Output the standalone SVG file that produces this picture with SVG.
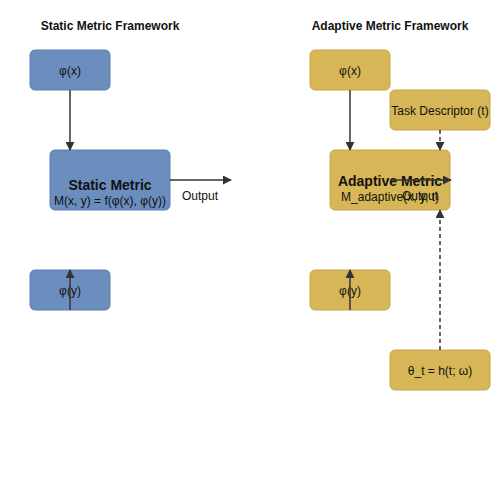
<svg xmlns="http://www.w3.org/2000/svg" width="500" height="500" viewBox="0 0 500 500">
<defs>
<style>
.blue{fill:#6c8ebf;stroke:#5b7db0;stroke-width:1}
.gold{fill:#d6b656;stroke:#c7a74a;stroke-width:1}
.t{font-family:"Liberation Sans",Arial,sans-serif;font-size:12px;fill:#111;text-anchor:middle}
.b{font-weight:bold;font-size:14px}
.title{font-family:"Liberation Sans",Arial,sans-serif;font-size:12px;font-weight:bold;fill:#111;text-anchor:middle}
.e{stroke:#333;stroke-width:1.5;fill:none}
.d{stroke-dasharray:4,3}
</style>
<marker id="ah" viewBox="0 0 10 10" refX="9" refY="5" markerWidth="6" markerHeight="6" orient="auto" markerUnits="strokeWidth">
<path d="M0,0 L10,5 L0,10 Z" fill="#333"/>
</marker>
</defs>
<rect width="500" height="500" fill="#fff"/>
<text class="title" x="110" y="30">Static Metric Framework</text>
<text class="title" x="390" y="30">Adaptive Metric Framework</text>
<g id="s_phix"><rect class="blue" x="30" y="50" width="80" height="40" rx="5"/><text class="t" x="70" y="75">φ(x)</text></g>
<g id="s_metric"><rect class="blue" x="50" y="150" width="120" height="60" rx="5"/><text class="t b" x="110" y="190">Static Metric</text><text class="t" x="110" y="205">M(x, y) = f(φ(x), φ(y))</text></g>
<g id="s_phiy"><rect class="blue" x="30" y="270" width="80" height="40" rx="5"/><text class="t" x="70" y="295">φ(y)</text></g>
<g id="a_phix"><rect class="gold" x="310" y="50" width="80" height="40" rx="5"/><text class="t" x="350" y="75">φ(x)</text></g>
<g id="a_task"><rect class="gold" x="390" y="90" width="100" height="40" rx="5"/><text class="t" x="440" y="115">Task Descriptor (t)</text></g>
<g id="a_metric"><rect class="gold" x="330" y="150" width="120" height="60" rx="5"/><text class="t b" x="390" y="186">Adaptive Metric</text><text class="t" x="390" y="201">M_adaptive(x, y, t)</text></g>
<g id="a_phiy"><rect class="gold" x="310" y="270" width="80" height="40" rx="5"/><text class="t" x="350" y="295">φ(y)</text></g>
<g id="a_theta"><rect class="gold" x="390" y="350" width="100" height="40" rx="5"/><text class="t" x="440" y="375">θ_t = h(t; ω)</text></g>
<g id="connectors">
<line class="e" x1="70" y1="90" x2="70" y2="150" marker-end="url(#ah)"/>
<line class="e" x1="70" y1="310" x2="70" y2="270" marker-end="url(#ah)"/>
<line class="e" x1="170" y1="180" x2="231" y2="180" marker-end="url(#ah)"/>
<text class="t" x="200" y="200">Output</text>
<line class="e" x1="350" y1="90" x2="350" y2="150" marker-end="url(#ah)"/>
<line class="e" x1="350" y1="310" x2="350" y2="270" marker-end="url(#ah)"/>
<line class="e d" x1="440" y1="130" x2="440" y2="150" marker-end="url(#ah)"/>
<line class="e d" x1="440" y1="350" x2="440" y2="210" marker-end="url(#ah)"/>
<line class="e" x1="390" y1="180" x2="451" y2="180" marker-end="url(#ah)"/>
<text class="t" x="420" y="200">Output</text>
</g>
</svg>
